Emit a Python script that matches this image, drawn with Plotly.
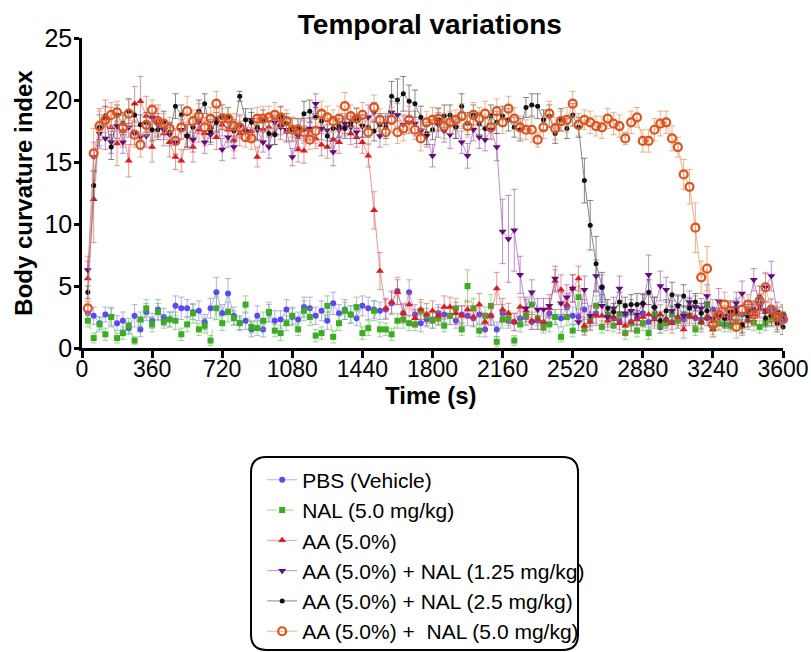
import plotly.graph_objects as go

time_s = [30, 60, 90, 120, 150, 180, 210, 240, 270, 300, 330, 360, 390, 420, 450, 480, 510, 540, 570, 600,
          630, 660, 690, 720, 750, 780, 810, 840, 870, 900, 930, 960, 990, 1020, 1050, 1080, 1110, 1140, 1170, 1200,
          1230, 1260, 1290, 1320, 1350, 1380, 1410, 1440, 1470, 1500, 1530, 1560, 1590, 1620, 1650, 1680, 1710, 1740, 1770, 1800,
          1830, 1860, 1890, 1920, 1950, 1980, 2010, 2040, 2070, 2100, 2130, 2160, 2190, 2220, 2250, 2280, 2310, 2340, 2370, 2400,
          2430, 2460, 2490, 2520, 2550, 2580, 2610, 2640, 2670, 2700, 2730, 2760, 2790, 2820, 2850, 2880, 2910, 2940, 2970, 3000,
          3030, 3060, 3090, 3120, 3150, 3180, 3210, 3240, 3270, 3300, 3330, 3360, 3390, 3420, 3450, 3480, 3510, 3540, 3570, 3600]

x_ticks = [0, 360, 720, 1080, 1440, 1800, 2160, 2520, 2880, 3240, 3600]
y_ticks = [0, 5, 10, 15, 20, 25]

pbs = [2.8, 2.6, 2.0, 2.7, 2.5, 2.0, 2.2, 1.6, 2.6, 1.5, 2.9, 2.2, 3.1, 2.5, 2.3, 3.4, 3.2, 3.2, 2.9, 3.0,
       2.1, 3.2, 4.5, 2.8, 4.4, 2.6, 2.0, 2.2, 1.5, 2.6, 1.5, 2.8, 2.2, 2.3, 3.1, 2.5, 2.3, 3.3, 3.2, 2.6,
       3.0, 2.2, 3.6, 2.8, 3.1, 2.7, 2.4, 3.4, 3.2, 3.1, 3.0, 3.1, 3.6, 4.6, 2.8, 4.5, 2.7, 2.0, 2.3, 2.3,
       2.8, 2.7, 2.6, 2.2, 2.7, 2.6, 2.4, 2.7, 1.5, 2.6, 1.5, 2.8, 2.2, 2.1, 2.4, 2.5, 2.1, 2.2, 2.0, 2.8,
       2.5, 2.4, 3.3, 2.6, 2.5, 3.1, 2.2, 2.8, 4.9, 2.6, 2.4, 2.2, 2.7, 2.1, 2.4, 2.8, 2.1, 2.5, 1.7, 2.3,
       2.1, 2.3, 2.3, 3.3, 2.4, 2.3, 2.4, 3.1, 2.5, 2.4, 2.6, 3.2, 2.7, 3.0, 3.1, 3.6, 3.0, 3.1, 2.5, 2.3]
pbs_err = [0.6, 0.7, 0.5, 0.6, 0.7, 0.6, 0.7, 0.5, 0.9, 0.6, 0.7, 0.6, 0.8, 0.7, 0.6, 0.8, 0.9, 0.7, 0.6, 0.8,
           0.6, 0.8, 1.2, 0.7, 1.2, 0.7, 0.6, 0.7, 0.6, 0.8, 0.6, 0.7, 0.8, 0.7, 0.8, 0.7, 0.6, 0.8, 0.9, 0.7,
           0.8, 0.7, 0.9, 0.7, 0.8, 0.7, 0.6, 0.8, 0.9, 0.7, 0.7, 0.8, 0.9, 1.1, 0.7, 1.0, 0.8, 0.7, 0.6, 0.7,
           0.7, 0.6, 0.7, 0.6, 0.7, 0.8, 0.6, 0.7, 0.6, 0.7, 0.6, 0.7, 0.6, 0.7, 0.6, 0.7, 0.6, 0.7, 0.6, 0.7,
           0.6, 0.7, 0.8, 0.7, 0.6, 0.8, 0.7, 0.8, 1.0, 0.7, 0.6, 0.7, 0.6, 0.7, 0.6, 0.7, 0.6, 0.7, 0.5, 0.6,
           0.6, 0.7, 0.6, 0.8, 0.6, 0.7, 0.6, 0.8, 0.7, 0.6, 0.7, 0.8, 0.7, 0.7, 0.6, 0.8, 0.7, 0.8, 0.7, 0.6]

nal = [2.2, 0.8, 1.9, 1.1, 2.5, 0.8, 1.2, 1.8, 0.6, 2.3, 3.2, 1.9, 2.9, 2.1, 2.3, 2.2, 1.1, 1.9, 2.8, 1.5,
       1.8, 0.6, 3.2, 2.0, 2.9, 2.4, 2.0, 3.5, 1.7, 1.6, 2.2, 2.9, 1.4, 1.2, 2.0, 2.6, 1.5, 3.0, 2.5, 1.0,
       1.2, 3.4, 0.9, 2.0, 3.0, 2.7, 3.3, 1.2, 1.6, 3.0, 1.5, 1.5, 1.1, 2.2, 2.3, 2.0, 1.9, 3.0, 2.6, 2.2,
       2.4, 1.8, 2.6, 3.2, 1.5, 5.0, 3.2, 1.4, 2.6, 3.4, 0.5, 2.3, 2.4, 0.6, 1.9, 2.6, 3.5, 2.4, 1.7, 1.9,
       2.5, 0.9, 2.5, 1.4, 4.1, 1.5, 2.3, 3.4, 1.7, 2.7, 1.8, 2.7, 1.2, 2.0, 1.4, 2.0, 1.2, 2.7, 1.8, 2.0,
       2.7, 2.2, 2.7, 2.6, 1.5, 2.1, 3.5, 1.6, 2.0, 1.9, 1.8, 2.1, 1.8, 2.6, 2.0, 1.7, 2.0, 2.3, 2.6, 2.7]
nal_err = [0.5, 0.4, 0.6, 0.5, 0.8, 0.4, 0.5, 0.6, 0.3, 0.6, 0.7, 0.6, 0.7, 0.5, 0.6, 0.7, 0.5, 0.6, 0.8, 0.5,
           0.6, 0.4, 0.9, 0.6, 0.8, 0.6, 0.5, 0.7, 0.5, 0.6, 0.7, 0.8, 0.5, 0.6, 0.6, 0.7, 0.5, 0.8, 0.7, 0.5,
           0.5, 0.8, 0.5, 0.6, 0.7, 0.7, 0.8, 0.5, 0.6, 0.8, 0.6, 0.5, 0.5, 0.6, 0.7, 0.6, 0.5, 0.7, 0.6, 0.6,
           0.6, 0.5, 0.7, 0.8, 0.5, 1.3, 0.8, 0.5, 0.7, 0.9, 0.4, 0.7, 0.6, 0.4, 0.6, 0.7, 0.8, 0.6, 0.5, 0.6,
           0.6, 0.4, 0.7, 0.5, 0.9, 0.5, 0.6, 0.8, 0.5, 0.7, 0.5, 0.7, 0.5, 0.6, 0.5, 0.6, 0.5, 0.7, 0.6, 0.6,
           0.7, 0.6, 0.7, 0.6, 0.5, 0.6, 0.8, 0.5, 0.6, 0.6, 0.5, 0.6, 0.5, 0.6, 0.6, 0.5, 0.6, 0.6, 0.7, 0.7]

aa = [5.6, 12.0, 17.7, 18.5, 17.8, 16.5, 17.5, 15.1, 19.7, 19.9, 18.7, 16.2, 18.3, 17.3, 16.6, 15.4, 15.1, 17.1, 16.2, 17.6,
      17.3, 17.8, 17.0, 18.0, 17.6, 16.8, 17.3, 17.6, 17.5, 15.4, 17.6, 17.8, 17.3, 18.0, 17.5, 17.8, 16.0, 15.9, 17.6, 16.9,
      16.4, 16.2, 16.8, 16.6, 17.9, 17.3, 17.0, 16.6, 15.5, 11.1, 6.2, 3.2, 3.7, 4.5, 2.8, 3.5, 2.4, 3.1, 2.7, 3.0,
      2.6, 3.3, 3.3, 2.8, 2.6, 3.1, 2.5, 3.5, 2.1, 2.6, 4.8, 3.1, 2.8, 2.1, 3.3, 3.0, 2.2, 2.3, 2.1, 3.2,
      5.4, 4.7, 3.5, 4.8, 5.6, 1.8, 2.1, 2.6, 2.6, 2.2, 2.5, 2.0, 1.8, 2.1, 2.3, 2.5, 2.7, 2.3, 2.7, 2.3,
      2.0, 2.5, 1.5, 2.6, 2.5, 2.1, 2.5, 1.5, 2.8, 2.5, 2.3, 2.7, 1.8, 2.2, 2.7, 3.1, 2.9, 2.7, 2.3, 2.7]
aa_err = [1.8, 3.5, 1.6, 1.5, 1.6, 1.8, 1.3, 1.3, 1.4, 2.0, 1.6, 1.2, 1.3, 1.0, 1.2, 1.0, 0.9, 1.1, 1.2, 1.0,
          1.0, 0.9, 1.0, 0.9, 1.0, 0.9, 1.0, 0.9, 0.8, 0.8, 0.9, 0.8, 0.9, 0.8, 0.9, 0.8, 1.0, 1.0, 0.9, 0.8,
          0.9, 0.9, 1.0, 0.9, 0.8, 0.9, 0.8, 0.9, 0.9, 1.5, 1.5, 0.8, 0.9, 1.0, 0.8, 0.9, 0.7, 0.8, 0.9, 0.8,
          0.7, 0.9, 0.8, 0.9, 0.8, 0.7, 0.8, 0.9, 0.7, 0.8, 1.3, 0.9, 0.8, 0.7, 0.8, 0.9, 0.7, 0.8, 0.7, 0.8,
          0.9, 1.2, 0.9, 1.1, 1.0, 0.7, 0.7, 0.8, 0.7, 0.8, 0.7, 0.8, 0.7, 0.8, 0.7, 0.8, 0.8, 0.7, 0.8, 0.7,
          0.8, 0.7, 0.7, 0.8, 0.7, 0.8, 0.7, 0.6, 0.8, 0.7, 0.8, 0.7, 0.8, 0.7, 0.8, 0.7, 0.8, 0.7, 0.8, 0.8]

aa_nal125 = [6.3, 15.4, 17.3, 16.9, 16.6, 17.9, 16.6, 17.8, 17.3, 17.0, 17.1, 18.6, 18.0, 17.6, 17.2, 16.6, 17.6, 17.1, 16.8, 18.2,
             16.6, 17.2, 18.5, 16.0, 17.0, 16.2, 17.9, 17.5, 18.4, 17.6, 16.6, 16.2, 18.2, 17.8, 17.6, 15.4, 17.1, 17.6, 17.7, 19.7,
             17.7, 17.6, 15.8, 17.6, 18.1, 17.8, 17.4, 17.9, 18.6, 19.0, 17.1, 18.1, 19.0, 18.8, 18.0, 18.2, 18.1, 17.5, 17.1, 15.5,
             18.0, 17.5, 17.2, 17.8, 16.6, 15.5, 17.6, 17.0, 16.8, 17.6, 16.2, 9.4, 8.8, 9.5, 5.9, 3.2, 4.5, 3.1, 3.1, 3.4,
             5.6, 3.6, 4.1, 4.8, 2.1, 4.7, 2.6, 5.8, 3.4, 2.5, 3.2, 4.8, 2.8, 3.0, 2.7, 3.5, 5.9, 3.2, 5.0, 4.7,
             3.0, 3.4, 2.6, 3.7, 3.3, 3.2, 4.2, 2.4, 3.8, 2.6, 2.9, 3.6, 4.4, 3.0, 5.5, 3.4, 4.9, 5.8, 2.9, 2.6]
aa_nal125_err = [0.7, 1.2, 1.0, 0.9, 0.9, 1.0, 0.9, 0.8, 0.9, 1.0, 0.9, 1.0, 0.9, 0.8, 0.9, 1.0, 0.8, 0.9, 1.0, 0.9,
                 0.9, 0.8, 1.0, 0.9, 0.8, 0.9, 0.9, 0.8, 0.9, 0.9, 0.8, 0.9, 0.9, 1.0, 0.9, 0.7, 0.9, 0.9, 0.9, 0.8,
                 0.9, 0.9, 1.1, 0.9, 0.8, 0.9, 0.9, 0.9, 1.0, 0.8, 0.9, 0.8, 0.9, 0.9, 0.8, 0.9, 1.0, 0.9, 0.9, 0.9,
                 1.0, 0.9, 1.1, 0.9, 0.9, 1.0, 0.9, 0.9, 0.9, 0.8, 1.1, 2.6, 3.5, 3.3, 1.5, 0.9, 1.0, 0.9, 0.9, 0.9,
                 1.0, 0.9, 1.0, 1.1, 0.7, 1.1, 0.8, 1.3, 0.9, 0.8, 0.9, 1.0, 0.8, 0.9, 0.8, 0.9, 1.6, 0.9, 1.2, 1.0,
                 0.8, 0.9, 0.8, 0.9, 0.9, 0.8, 0.9, 0.8, 1.0, 0.8, 0.8, 0.9, 1.0, 0.8, 0.9, 0.9, 1.1, 1.2, 0.8, 0.7]

aa_nal25 = [4.5, 13.1, 17.8, 18.7, 16.2, 18.8, 18.1, 19.1, 18.8, 18.0, 18.2, 17.6, 17.6, 18.2, 17.4, 19.5, 18.8, 17.1, 17.8, 19.1,
            19.7, 17.5, 18.2, 18.6, 18.6, 17.5, 20.3, 18.4, 18.2, 17.8, 18.4, 17.3, 17.2, 18.6, 18.1, 17.6, 17.7, 18.9, 19.1, 18.6,
            18.3, 17.1, 17.7, 17.9, 17.7, 18.1, 18.5, 17.9, 17.8, 17.5, 18.0, 17.8, 20.3, 20.0, 20.5, 19.9, 19.7, 18.6, 17.3, 17.6,
            18.4, 18.7, 18.8, 17.8, 19.5, 18.1, 18.8, 18.1, 17.7, 18.7, 18.2, 18.7, 18.4, 17.8, 17.6, 19.4, 19.6, 19.5, 18.4, 18.7,
            17.3, 18.4, 17.7, 18.8, 17.8, 13.5, 9.9, 6.8, 4.9, 3.2, 2.9, 3.7, 3.4, 3.5, 3.5, 3.6, 4.5, 3.3, 2.2, 3.0,
            4.3, 3.4, 4.2, 3.2, 3.7, 2.8, 3.0, 2.2, 2.5, 2.4, 2.9, 3.0, 1.9, 2.6, 3.0, 4.1, 2.4, 2.6, 2.0, 1.7]
aa_nal25_err = [0.5, 1.2, 1.0, 0.8, 1.0, 0.8, 0.9, 1.0, 0.9, 0.8, 0.8, 0.9, 0.8, 0.9, 0.8, 1.0, 0.8, 0.9, 0.8, 0.9,
                0.8, 0.9, 0.8, 1.0, 0.8, 0.9, 0.4, 0.9, 0.8, 1.0, 0.8, 0.9, 0.8, 0.9, 0.8, 0.9, 0.8, 1.0, 0.9, 0.8,
                0.8, 0.9, 0.8, 0.9, 0.8, 0.9, 0.8, 0.9, 0.8, 0.8, 0.9, 0.9, 1.2, 1.7, 1.4, 1.3, 1.1, 0.9, 0.9, 0.8,
                0.9, 0.9, 0.8, 0.9, 1.0, 0.9, 0.8, 0.9, 0.8, 0.9, 0.9, 0.8, 0.9, 0.8, 0.9, 0.8, 0.9, 1.0, 0.8, 0.9,
                0.8, 0.9, 0.8, 0.9, 0.8, 1.8, 2.0, 2.2, 1.2, 0.7, 0.7, 0.8, 0.7, 0.8, 0.9, 0.7, 1.0, 0.8, 0.7, 0.9,
                1.0, 0.8, 0.9, 0.8, 0.7, 0.8, 0.7, 0.8, 0.7, 0.8, 0.9, 0.8, 0.7, 0.9, 0.8, 0.9, 0.7, 0.8, 0.7, 0.6]

aa_nal50 = [3.2, 15.7, 17.9, 18.4, 18.8, 19.0, 17.8, 18.9, 17.2, 16.4, 18.0, 19.2, 18.3, 18.1, 17.7, 16.7, 17.8, 19.1, 18.3, 18.7,
            17.8, 18.5, 19.7, 18.5, 18.5, 17.9, 17.8, 17.0, 16.9, 18.5, 18.5, 18.6, 18.8, 18.6, 18.3, 17.6, 17.6, 17.4, 16.8, 17.5,
            18.9, 18.6, 18.3, 18.5, 19.5, 18.7, 18.5, 18.8, 17.4, 19.4, 18.4, 17.4, 18.4, 17.4, 17.7, 18.4, 17.6, 16.9, 18.2, 18.4,
            18.5, 17.9, 18.2, 18.4, 18.7, 17.9, 18.8, 18.5, 18.9, 17.8, 19.1, 18.2, 19.3, 18.5, 17.8, 17.6, 17.6, 16.8, 17.8, 18.9,
            17.7, 18.3, 18.4, 19.7, 18.0, 18.4, 18.2, 17.9, 17.8, 18.5, 18.1, 17.9, 16.9, 18.2, 18.6, 16.7, 16.7, 17.6, 18.1, 18.2,
            16.9, 16.2, 14.0, 13.0, 9.7, 5.7, 6.4, 1.9, 2.7, 3.5, 3.0, 1.7, 3.1, 3.5, 2.7, 3.8, 4.9, 3.1, 2.5, 2.3]
aa_nal50_err = [0.5, 2.0, 1.2, 1.0, 1.0, 0.9, 1.0, 1.1, 1.0, 1.0, 0.9, 0.8, 1.0, 0.8, 0.9, 1.0, 0.9, 1.2, 0.9, 1.0,
                0.8, 0.9, 1.0, 0.8, 0.9, 1.0, 0.9, 0.8, 0.9, 0.9, 1.0, 0.9, 1.0, 0.8, 0.9, 1.0, 0.8, 0.9, 0.8, 1.0,
                1.0, 0.9, 0.9, 1.0, 1.1, 0.9, 0.9, 1.0, 0.9, 1.0, 0.9, 1.0, 1.0, 0.9, 1.0, 1.1, 0.8, 1.0, 0.9, 1.0,
                0.9, 1.0, 0.9, 0.8, 1.0, 0.9, 1.0, 0.9, 1.0, 0.9, 1.0, 0.9, 1.0, 0.9, 0.9, 0.8, 1.0, 0.6, 0.9, 1.0,
                0.9, 0.8, 1.0, 1.0, 0.9, 0.8, 0.9, 0.8, 0.9, 0.8, 0.9, 0.9, 0.5, 0.9, 0.8, 0.9, 0.9, 0.9, 1.0, 0.9,
                1.0, 0.8, 1.2, 1.4, 2.0, 1.3, 1.8, 1.0, 1.2, 1.0, 0.8, 0.9, 1.0, 0.8, 0.9, 0.8, 1.2, 0.9, 0.8, 0.7]

series = [
    dict(name="PBS (Vehicle)", y=pbs, err=pbs_err, mcolor="#5a48f2", lcolor="rgba(120,108,245,0.55)",
         symbol="circle", size=6, dash="solid", mline=0),
    dict(name="NAL (5.0 mg/kg)", y=nal, err=nal_err, mcolor="#3aad23", lcolor="rgba(90,195,70,0.6)",
         symbol="square", size=6, dash="dash", mline=0),
    dict(name="AA (5.0%)", y=aa, err=aa_err, mcolor="#e01b1b", lcolor="rgba(228,80,80,0.6)",
         symbol="triangle-up", size=7, dash="solid", mline=0),
    dict(name="AA (5.0%) + NAL (1.25 mg/kg)", y=aa_nal125, err=aa_nal125_err, mcolor="#650a7c",
         lcolor="rgba(150,70,170,0.6)", symbol="triangle-down", size=7, dash="solid", mline=0),
    dict(name="AA (5.0%) + NAL (2.5 mg/kg)", y=aa_nal25, err=aa_nal25_err, mcolor="#111111",
         lcolor="rgba(70,70,70,0.65)", symbol="circle", size=5, dash="solid", mline=0),
    dict(name="AA (5.0%) +  NAL (5.0 mg/kg)", y=aa_nal50, err=aa_nal50_err, mcolor="#e0521c",
         lcolor="rgba(240,150,100,0.75)", symbol="circle-open", size=8, dash="solid", mline=2.2),
]

fig = go.Figure()
for i, s in enumerate(series):
    fig.add_trace(go.Scatter(
        x=time_s, y=s["y"], name=s["name"], mode="lines+markers",
        line=dict(color=s["lcolor"], width=1, dash=s["dash"]),
        marker=dict(color=s["mcolor"], symbol=s["symbol"], size=s["size"],
                    line=dict(width=s["mline"], color=s["mcolor"])),
        error_y=dict(type="data", array=s["err"], visible=True, color=s["lcolor"], thickness=1, width=3),
        cliponaxis=False,
    ))

font_family = "Liberation Sans, Arial, Helvetica, sans-serif"

# rounded legend frame (paper coordinates)
x0, x1 = 0.2411, 0.7076
yt, yb = -0.3516, -0.974
rx, ry = 0.022, 0.05
path = (f"M {x0+rx},{yt} L {x1-rx},{yt} Q {x1},{yt} {x1},{yt-ry} "
        f"L {x1},{yb+ry} Q {x1},{yb} {x1-rx},{yb} L {x0+rx},{yb} Q {x0},{yb} {x0},{yb+ry} "
        f"L {x0},{yt-ry} Q {x0},{yt} {x0+rx},{yt} Z")

fig.update_layout(
    width=811, height=652,
    margin=dict(l=82, r=28, t=38, b=304, autoexpand=False),
    paper_bgcolor="white", plot_bgcolor="white",
    font=dict(family=font_family, color="black"),
    title=dict(text="<b>Temporal variations</b>", x=0.530, xanchor="center", y=0.963, yanchor="middle",
               font=dict(size=28, family=font_family, color="black")),
    showlegend=True,
    legend=dict(x=0.257, xanchor="left", y=-0.36, yanchor="top",
                font=dict(size=21, family=font_family, color="black"),
                bgcolor="rgba(0,0,0,0)", borderwidth=0,
                traceorder="normal", itemwidth=30),
    shapes=[dict(type="path", xref="paper", yref="paper", path=path,
                 line=dict(color="black", width=2), fillcolor="rgba(0,0,0,0)")],
    annotations=[dict(text="<b>Time (s)</b>", xref="paper", yref="paper", x=0.498, y=-0.152,
                      xanchor="center", yanchor="middle", showarrow=False,
                      font=dict(size=24, family=font_family, color="black"))],
)

fig.update_xaxes(
    range=[0, 3600], tickvals=x_ticks, ticktext=[str(v) for v in x_ticks], automargin=False,
    showgrid=False, zeroline=False, showline=True, linecolor="black", linewidth=2.5,
    ticks="outside", ticklen=7, tickwidth=2.5, tickcolor="black", ticklabelstandoff=-8,
    tickfont=dict(size=23, family=font_family, color="black"),
)
fig.update_yaxes(
    range=[0, 25], tickvals=y_ticks, ticktext=[str(v) for v in y_ticks], automargin=False,
    showgrid=False, zeroline=False, showline=True, linecolor="black", linewidth=2.5,
    ticks="outside", ticklen=5, tickwidth=2.5, tickcolor="black", ticklabelstandoff=-3,
    tickfont=dict(size=25, family=font_family, color="black"),
    title=dict(text="<b>Body curvature index</b>", font=dict(size=24, family=font_family, color="black"), standoff=6),
)

fig.write_html("out.html", post_script="document.body.style.margin='0';",
               config={"displayModeBar": False})
